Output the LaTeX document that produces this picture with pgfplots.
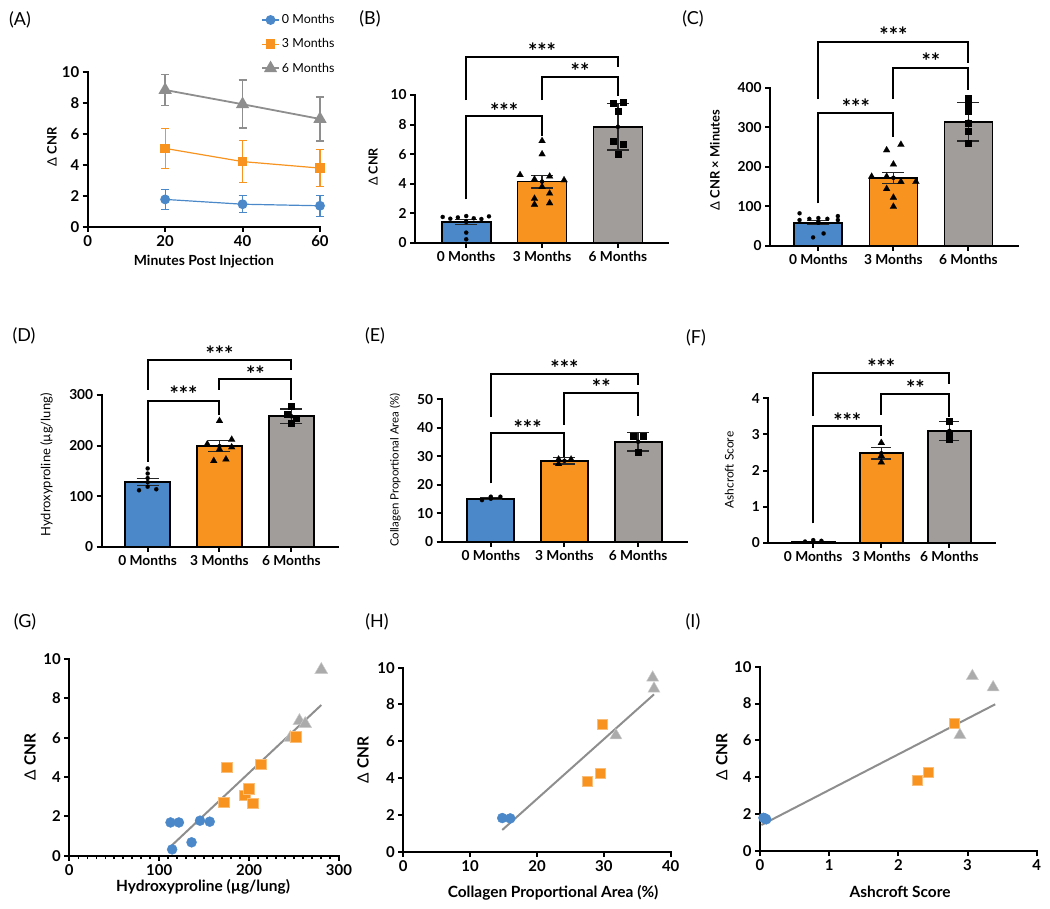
\documentclass[border=0pt]{standalone}
\usepackage{pgfplots}
\pgfplotsset{compat=1.18}
\usepackage{fontspec}
\setmainfont{Lato}

\definecolor{cblue}{HTML}{4A88CA}
\definecolor{corange}{HTML}{F7931E}
\definecolor{cgray}{HTML}{A09D9A}
\definecolor{sgray}{HTML}{ABABAB}
\definecolor{lgray}{HTML}{8E8E8E}

\newcommand{\fs}[1]{\fontsize{#1}{#1}\selectfont}
\tikzset{sig/.style={font=\bfseries\fs{22}, yshift=-4bp}}

\pgfplotsset{
  panel/.style={scale only axis, clip=false, anchor=south west,
    axis x line*=bottom, axis y line*=left,
    axis line style={line width=2bp, line cap=rect},
    tick align=outside, major tick length=5bp,
    every tick/.style={black, line width=2bp},
    /pgf/number format/assume math mode=true,
    tick label style={font=\bfseries\fs{13.8}},
    label style={font=\bfseries\fs{13}},
    xlabel style={anchor=center}, ylabel style={anchor=center}},
  barpanel/.style={panel, xtick={0,1,2}, xticklabels={0 Months,3 Months,6 Months}, ymin=0},
  bar/.style={ybar, bar shift=0pt, draw=black, line width=1.8bp, forget plot},
  ebar/.style={only marks, mark=none, forget plot,
    error bars/.cd, y dir=both, y explicit,
    error bar style={draw=black!85, line width=1.3bp},
    error mark options={rotate=90, mark size=#1, line width=1.3bp, draw=black!85}},
  pts/.style={only marks, mark options={fill=black, draw=black, line width=0.1bp}, forget plot},
  brk/.style={black, line width=2bp, mark=none, line join=miter, forget plot},
  sc/.style={only marks, forget plot},
}

\begin{document}
\begin{tikzpicture}
\path[use as bounding box] (0,0) rectangle (1050bp,909bp);

% panel labels
\begin{scope}[every node/.style={font=\fs{18}}]
\node at (20bp,889bp) {(A)};
\node at (370bp,890bp) {(B)};
\node at (693bp,890bp) {(C)};
\node at (24bp,573bp) {(D)};
\node at (375bp,573bp) {(E)};
\node at (696bp,571bp) {(F)};
\node at (25bp,287bp) {(G)};
\node at (377bp,287bp) {(H)};
\node at (693bp,287bp) {(I)};
\end{scope}

% (A)
\begin{axis}[panel, at={(87.7bp,682.3bp)}, width=232.3bp, height=155bp,
  xmin=0, xmax=60, ymin=0, ymax=10, xtick={0,20,40,60}, ytick={0,2,...,10},
  tick label style={font=\bfseries\fs{15}},
  xlabel={Minutes Post Injection}, ylabel={{\mdseries Δ} CNR},
  xlabel style={font=\bfseries\fs{14}, at={(axis description cs:0.5,-0.228)}},
  ylabel style={font=\bfseries\fs{13}, at={(axis description cs:-0.154,0.514)}},
  legend style={at={(0.733,1.395)}, anchor=north west, draw=none, fill=none,
    font=\fs{12.5}, row sep=9.5bp},
  legend cell align=left]
\addplot[cblue, line width=1.2bp, mark=*, mark size=4.3bp, mark options={fill=cblue},
  error bars/.cd, y dir=both, y explicit, error bar style={line width=1.2bp},
  error mark options={rotate=90, mark size=4bp, line width=1.2bp, cblue}]
  coordinates {(20,1.76) +- (0,0.66) (40,1.45) +- (0,0.55) (60,1.35) +- (0,0.68)};
\addlegendentry{0 Months}
\addplot[corange, line width=1.2bp, mark=square*, mark size=4.1bp, mark options={fill=corange},
  error bars/.cd, y dir=both, y explicit, error bar style={line width=1.2bp},
  error mark options={rotate=90, mark size=4bp, line width=1.2bp, corange}]
  coordinates {(20,5.05) +- (0,1.3) (40,4.2) +- (0,1.35) (60,3.78) +- (0,1.2)};
\addlegendentry{3 Months}
\addplot[lgray, line width=1.8bp, mark=triangle*, mark size=5.9bp, mark options={fill=lgray},
  error bars/.cd, y dir=both, y explicit, error bar style={line width=1.8bp},
  error mark options={rotate=90, mark size=4bp, line width=1.8bp, lgray}]
  coordinates {(20,8.82) +- (0,1.0) (40,7.9) +- (0,1.55) (60,6.95) +- (0,1.43)};
\addlegendentry{6 Months}
\end{axis}

% (B)
\begin{axis}[barpanel, at={(415bp,666bp)}, width=253bp, height=148bp,
  xmin=-0.675, xmax=2.66, ymax=10, ytick={0,2,...,10},
  ylabel={{\mdseries Δ} CNR}, ylabel style={font=\bfseries\fs{12.5}, at={(axis description cs:-0.166,0.514)}}]
\addplot[bar, bar width=49bp, fill=cblue] coordinates {(0,1.43)};
\addplot[bar, bar width=49bp, fill=corange] coordinates {(1,4.15)};
\addplot[bar, bar width=49bp, fill=cgray] coordinates {(2,7.85)};
\addplot[ebar=11bp] coordinates {(0,1.43) +- (0,0.18) (1,4.15) +- (0,0.43) (2,7.85) +- (0,1.56)};
\addplot[pts, mark=*, mark size=2.1bp] coordinates {(-0.31,1.76) (-0.21,1.64) (-0.11,1.73) (0,1.82) (0.1,1.67) (0.2,1.62) (0.3,1.8) (0,1.45) (0,0.7) (0,0.25)};
\addplot[pts, mark=triangle*, mark size=4bp] coordinates {(1,6.9) (1,6.0) (0.71,4.6) (0.9,4.3) (1.1,4.5) (1.29,4.25) (1,3.8) (0.9,3.0) (0.9,2.6) (1.1,3.35) (1.1,2.7)};
\addplot[pts, mark=square*, mark size=3bp] coordinates {(1.93,9.48) (2.07,9.5) (2,8.92) (1.93,6.89) (2.07,6.69) (2,6.01)};
\addplot[brk] coordinates {(0,9.66) (0,12.55) (2,12.55) (2,11.9)};
\addplot[brk] coordinates {(1,9.66) (1,11.24) (2,11.24) (2,9.9)};
\addplot[brk] coordinates {(0,2.95) (0,8.6) (1,8.6) (1,7.2)};
\node[sig] at (axis cs:1,13.2) {***};
\node[sig] at (axis cs:1.5,11.9) {**};
\node[sig] at (axis cs:0.5,9.2) {***};
\end{axis}

% (C)
\begin{axis}[barpanel, at={(770bp,663.3bp)}, width=248bp, height=158bp,
  xmin=-0.644, xmax=2.66, ymax=400, ytick={0,100,...,400},
  ylabel={{\mdseries Δ} CNR × Minutes}, ylabel style={font=\bfseries\fs{13}, at={(axis description cs:-0.222,0.542)}}]
\addplot[bar, bar width=48bp, fill=cblue] coordinates {(0,58)};
\addplot[bar, bar width=48bp, fill=corange] coordinates {(1,172)};
\addplot[bar, bar width=48bp, fill=cgray] coordinates {(2,314)};
\addplot[ebar=11bp] coordinates {(0,58) +- (0,5) (1,172) +- (0,14) (2,314) +- (0,49)};
\addplot[pts, mark=*, mark size=2.1bp] coordinates {(-0.25,82) (-0.25,65) (-0.12,68) (0,70) (0.12,68) (0.26,75) (0.26,65) (0,60) (-0.07,21) (0.07,31)};
\addplot[pts, mark=triangle*, mark size=4bp] coordinates {(0.91,242) (1.1,256) (1,206) (0.71,175) (0.91,175) (1.1,162) (1.3,162) (0.91,144) (1,122) (1,99)};
\addplot[pts, mark=square*, mark size=3bp] coordinates {(2,375) (2,358) (2,341) (2,310) (2,290) (2,259)};
\addplot[brk] coordinates {(0,371) (0,516) (2,516) (2,463)};
\addplot[brk] coordinates {(1,371) (1,449) (2,449) (2,394)};
\addplot[brk] coordinates {(0,107) (0,335) (1,335) (1,276)};
\node[sig] at (axis cs:1,544) {***};
\node[sig] at (axis cs:1.5,477) {**};
\node[sig] at (axis cs:0.5,360) {***};
\end{axis}

% (D)
\begin{axis}[barpanel, at={(101.7bp,362bp)}, width=236.3bp, height=152bp,
  xmin=-0.64, xmax=2.65, ymax=300, ytick={0,100,200,300},
  ylabel={Hydroxyproline (µg/lung)}, ylabel style={font=\fs{13}, at={(axis description cs:-0.233,0.54)}}]
\addplot[bar, bar width=45bp, fill=cblue] coordinates {(0,128)};
\addplot[bar, bar width=45bp, fill=corange] coordinates {(1,199)};
\addplot[bar, bar width=45bp, fill=cgray] coordinates {(2,258)};
\addplot[ebar=11bp] coordinates {(0,128) +- (0,7) (1,199) +- (0,10.5) (2,258) +- (0,14.5)};
\addplot[pts, mark=*, mark size=2.1bp] coordinates {(0,155) (0,145) (0,136) (0,119) (-0.12,112) (0.12,114)};
\addplot[pts, mark=triangle*, mark size=4bp] coordinates {(1,249) (0.83,203) (1.17,212) (1.17,197) (1,193) (0.92,170) (1.09,173)};
\addplot[pts, mark=square*, mark size=3bp] coordinates {(2,279) (1.94,262) (2.07,255) (2,244)};
\addplot[brk] coordinates {(0,310) (0,369) (2,369) (2,349)};
\addplot[brk] coordinates {(1,310) (1,331) (2,331) (2,291)};
\addplot[brk] coordinates {(0,168) (0,288) (1,288) (1,261)};
\node[sig] at (axis cs:1,389) {***};
\node[sig] at (axis cs:1.5,349) {**};
\node[sig] at (axis cs:0.5,310) {***};
\end{axis}

% (E)
\begin{axis}[barpanel, at={(441.7bp,367.3bp)}, width=245bp, height=142.4bp,
  xmin=-0.667, xmax=2.66, ymax=50, ytick={0,10,...,50},
  ylabel={Collagen Proportional Area (\%)}, ylabel style={font=\fs{11.5}, at={(axis description cs:-0.19,0.503)}}]
\addplot[bar, bar width=47bp, fill=cblue] coordinates {(0,15.1)};
\addplot[bar, bar width=47bp, fill=corange] coordinates {(1,28.4)};
\addplot[bar, bar width=47bp, fill=cgray] coordinates {(2,35.1)};
\addplot[ebar=11bp] coordinates {(0,15.1) +- (0,0.4) (1,28.4) +- (0,1.1) (2,35.1) +- (0,3.3)};
\addplot[pts, mark=*, mark size=2.1bp] coordinates {(-0.12,14.6) (0,15.8) (0.13,15.8)};
\addplot[pts, mark=triangle*, mark size=4bp] coordinates {(0.92,28.9) (1.09,28.9) (0.92,27.3)};
\addplot[pts, mark=square*, mark size=3bp] coordinates {(1.93,37.2) (2.07,37.2) (2,31.6)};
\addplot[brk] coordinates {(0,43.9) (0,58.8) (2,58.8) (2,55.0)};
\addplot[brk] coordinates {(1,41.0) (1,52.1) (2,52.1) (2,44.1)};
\addplot[brk] coordinates {(0,20.5) (0,38.1) (1,38.1) (1,29.9)};
\node[sig] at (axis cs:1,62.4) {***};
\node[sig] at (axis cs:1.5,55.6) {**};
\node[sig] at (axis cs:0.5,41.3) {***};
\end{axis}

% (F)
\begin{axis}[barpanel, at={(768.3bp,366bp)}, width=226.7bp, height=144.7bp,
  xmin=-0.66, xmax=2.67, ymax=4, ytick={0,1,...,4},
  ylabel={Ashcroft Score}, ylabel style={font=\fs{12}, at={(axis description cs:-0.172,0.504)}}]
\addplot[bar, bar width=43bp, fill=cblue] coordinates {(0,0.03)};
\addplot[bar, bar width=43bp, fill=corange] coordinates {(1,2.48)};
\addplot[bar, bar width=43bp, fill=cgray] coordinates {(2,3.1)};
\addplot[ebar=10bp] coordinates {(1,2.48) +- (0,0.16) (2,3.1) +- (0,0.26)};
\addplot[pts, mark=*, mark size=2.1bp] coordinates {(-0.12,0.04) (0,0.08) (0.12,0.06)};
\addplot[pts, mark=triangle*, mark size=4bp] coordinates {(1,2.77) (1,2.41) (1,2.23)};
\addplot[pts, mark=square*, mark size=3bp] coordinates {(2,3.36) (2,3.05) (2,2.88)};
\addplot[brk] coordinates {(0,3.51) (0,4.69) (2,4.69) (2,4.4)};
\addplot[brk] coordinates {(1,3.54) (1,4.11) (2,4.11) (2,3.49)};
\addplot[brk] coordinates {(0,0.54) (0,3.24) (1,3.24) (1,2.96)};
\node[sig] at (axis cs:1,4.97) {***};
\node[sig] at (axis cs:1.5,4.39) {**};
\node[sig] at (axis cs:0.5,3.49) {***};
\end{axis}

% (G)
\begin{axis}[panel, at={(69.3bp,53.3bp)}, width=269.7bp, height=196.7bp,
  xmin=0, xmax=300, ymin=0, ymax=10, xtick={0,100,200,300}, ytick={0,2,...,10},
  minor x tick num=9, minor tick length=3.5bp, every minor tick/.style={black, line width=1.5bp},
  tick label style={font=\bfseries\fs{15}},
  xlabel={Hydroxyproline (µg/lung)}, ylabel={{\mdseries Δ} CNR},
  xlabel style={font=\bfseries\fs{15.5}, at={(axis description cs:0.496,-0.158)}},
  ylabel style={font=\bfseries\fs{15.5}, at={(axis description cs:-0.146,0.502)}}]
\addplot[lgray, line width=2bp, mark=none, forget plot] coordinates {(114.4,0.54) (280.3,7.66)};
\addplot[sc, mark=*, mark size=5bp, mark options={fill=cblue, draw=cblue}] coordinates {(112.6,1.69) (121.9,1.69) (145.4,1.78) (156.2,1.73) (136,0.68) (114.4,0.32)};
\addplot[sc, mark=triangle*, mark size=7.5bp, mark options={fill=sgray, draw=sgray!60!white}] coordinates {(280.3,9.45) (256,6.85) (262.4,6.7) (246,6.0)};
\addplot[sc, mark=square*, mark size=5.3bp, mark options={fill=corange, draw=corange!60!white}] coordinates {(172,2.71) (175,4.49) (195.3,3.08) (199.4,3.42) (203.9,2.66) (213.2,4.66) (251.6,6.05)};
\end{axis}

% (H)
\begin{axis}[panel, at={(403.3bp,57.3bp)}, width=267.4bp, height=184bp,
  xmin=0, xmax=40, ymin=0, ymax=10, xtick={0,10,...,40}, ytick={0,2,...,10},
  tick label style={font=\bfseries\fs{15}},
  xlabel={Collagen Proportional Area (\%)}, ylabel={{\mdseries Δ} CNR},
  xlabel style={font=\bfseries\fs{15.5}, at={(axis description cs:0.56,-0.224)}},
  ylabel style={font=\bfseries\fs{15.5}, at={(axis description cs:-0.151,0.498)}}]
\addplot[lgray, line width=2bp, mark=none, forget plot] coordinates {(14.8,1.18) (37.5,8.55)};
\addplot[sc, mark=*, mark size=5bp, mark options={fill=cblue, draw=cblue}] coordinates {(14.8,1.83) (16.0,1.81)};
\addplot[sc, mark=triangle*, mark size=7bp, mark options={fill=sgray, draw=sgray!60!white}] coordinates {(37.3,9.46) (37.5,8.86) (31.8,6.32)};
\addplot[sc, mark=square*, mark size=5bp, mark options={fill=corange, draw=corange!60!white}] coordinates {(29.7,6.92) (27.5,3.84) (29.4,4.26)};
\end{axis}

% (I)
\begin{axis}[panel, at={(760bp,58bp)}, width=276.7bp, height=184.3bp,
  xmin=0, xmax=4, ymin=0, ymax=10, xtick={0,1,...,4}, ytick={0,2,...,10},
  tick label style={font=\bfseries\fs{15}},
  xlabel={Ashcroft Score}, ylabel={{\mdseries Δ} CNR},
  xlabel style={font=\bfseries\fs{15.5}, at={(axis description cs:0.506,-0.221)}},
  ylabel style={font=\bfseries\fs{15.5}, at={(axis description cs:-0.138,0.51)}}]
\addplot[lgray, line width=2bp, mark=none, forget plot] coordinates {(0.02,1.41) (3.40,7.96)};
\addplot[sc, mark=*, mark size=5bp, mark options={fill=cblue, draw=cblue}] coordinates {(0.05,1.8) (0.07,1.77) (0.09,1.72)};
\addplot[sc, mark=triangle*, mark size=7bp, mark options={fill=sgray, draw=sgray!60!white}] coordinates {(3.07,9.49) (3.37,8.88) (2.89,6.29)};
\addplot[sc, mark=square*, mark size=5bp, mark options={fill=corange, draw=corange!60!white}] coordinates {(2.80,6.93) (2.27,3.82) (2.43,4.25)};
\end{axis}
\end{tikzpicture}
\end{document}
